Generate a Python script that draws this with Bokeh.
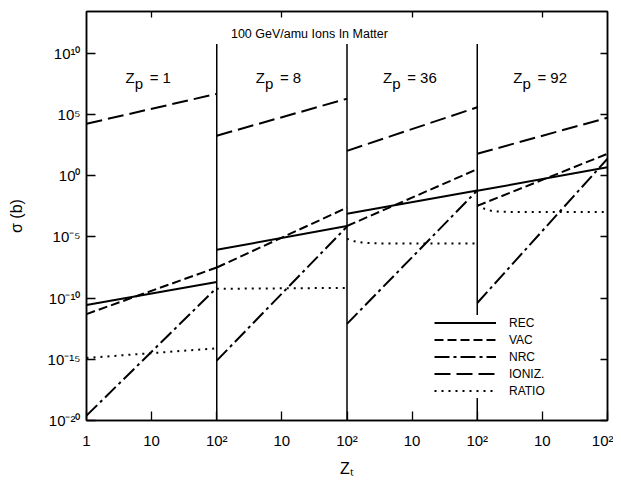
from bokeh.plotting import figure
from bokeh.models import (LogAxis, FixedTicker, ColumnDataSource, Legend, LegendItem,
                          Label)
from bokeh.core.properties import value
from bokeh.embed import file_html
from bokeh.resources import INLINE

# ---------------- data ----------------
zp_values = [1, 8, 36, 92]                 # projectile Z, one panel each
zt_ends = [1, 100]                         # target Z range in each panel
# cross sections in barns, [start, end] for each panel
rec = [[2.8e-11, 2.1e-9], [8.9e-7, 7.9e-5], [7.9e-4, 6.3e-2], [5.9e-2, 5.0]]
vac = [[5.0e-12, 3.2e-8], [3.2e-8, 2.5e-3], [7.9e-5, 3.5], [3.5e-3, 63.0]]
nrc = [[2.5e-20, 7.1e-10], [7.9e-16, 7.1e-5], [7.9e-13, 6.3e-2], [4.0e-11, 25.0]]
ioniz = [[1.8e4, 5.0e6], [1.9e3, 2.0e6], [1.1e2, 4.0e5], [63.0, 5.6e4]]
ratio_zt = [[1, 100], [1, 100],
            [1, 1.3, 1.7, 2.2, 3, 100], [1, 1.3, 1.7, 2.2, 3, 100]]
ratio = [[1.3e-15, 7.9e-15], [5.8e-10, 6.9e-10],
         [7.1e-6, 4.5e-6, 3.5e-6, 3.2e-6, 3.0e-6, 3.0e-6],
         [4.5e-3, 2.0e-3, 1.3e-3, 1.2e-3, 1.1e-3, 1.1e-3]]

y_ticks = [1e-20, 1e-15, 1e-10, 1e-5, 1.0, 1e5, 1e10]
y_tick_labels = ["10⁻²⁰", "10⁻¹⁵", "10⁻¹⁰", "10⁻⁵", "10⁰", "10⁵", "10¹⁰"]
zt_tick_labels = ["1", "10", "10²"]
divider_top = 6e10
title_text = "100 GeV/amu Ions In Matter"

FONT = "Liberation Sans"
n_panels = len(zp_values)
span = zt_ends[1] / zt_ends[0]   # each panel spans a factor of 100 in Zt


def place(zts, panel):
    return [z * span ** panel for z in zts]


p = figure(x_axis_type="log", y_axis_type="log",
           x_range=(1, span ** n_panels), y_range=(1e-20, 10 ** 13.43),
           frame_width=521, frame_height=409,
           min_border_left=86, min_border_right=6, min_border_top=11,
           min_border_bottom=63,
           output_backend="svg", toolbar_location=None)
p.xgrid.visible = False
p.ygrid.visible = False
p.outline_line_color = "black"
p.outline_line_width = 1.5
p.background_fill_color = "white"
p.border_fill_color = "white"

# ---------------- axes ----------------
x_ticks = []
x_labels = {}
for i in range(n_panels + 1):
    base = span ** i
    x_ticks.append(float(base))
    x_labels[float(base)] = zt_tick_labels[0] if i == 0 else zt_tick_labels[2]
    if i < n_panels:
        mid = base * 10
        x_ticks.append(float(mid))
        x_labels[float(mid)] = zt_tick_labels[1]

xa = p.xaxis[0]
xa.ticker = FixedTicker(ticks=x_ticks, minor_ticks=[])
xa.major_label_overrides = x_labels
xa.axis_label = "Zₜ"
xa.axis_label_standoff = 8
ya = p.yaxis[0]
ya.ticker = FixedTicker(ticks=y_ticks, minor_ticks=[])
ya.major_label_overrides = {float(t): l for t, l in zip(y_ticks, y_tick_labels)}
ya.axis_label = "σ (b)"
ya.axis_label_standoff = 20

for ax in (xa, ya):
    ax.major_tick_in = 9
    ax.major_tick_out = 0
    ax.minor_tick_in = 0
    ax.minor_tick_out = 0
    ax.axis_line_color = "black"
    ax.axis_line_width = 1.5
    ax.major_tick_line_color = "black"
    ax.major_tick_line_width = 1.3
    ax.major_label_text_font = FONT
    ax.major_label_text_font_size = "15px"
    ax.major_label_text_color = "black"
    ax.axis_label_text_font_style = "normal"
    ax.axis_label_text_font = FONT
    ax.axis_label_text_font_size = "16px"
    ax.axis_label_text_color = "black"
xa.major_label_standoff = 11
ya.major_label_standoff = 6

top_ticks = [float(span ** i * 10) for i in range(n_panels)]
top = LogAxis(ticker=FixedTicker(ticks=top_ticks, minor_ticks=[]))
right = LogAxis(ticker=FixedTicker(ticks=y_ticks, minor_ticks=[]))
for ax, tl in ((top, 6), (right, 7)):
    ax.major_tick_in = tl
    ax.major_tick_out = 0
    ax.minor_tick_in = 0
    ax.minor_tick_out = 0
    ax.major_label_text_font_size = "1px"
    ax.major_label_text_alpha = 0
    ax.major_label_standoff = 0
    ax.axis_line_color = "black"
    ax.axis_line_width = 1.5
    ax.major_tick_line_color = "black"
    ax.major_tick_line_width = 1.3
p.add_layout(top, "above")
p.add_layout(right, "right")

# ---------------- panel dividers ----------------
div_x = [float(span ** i) for i in range(1, n_panels)]
p.segment(x0=div_x, y0=[1e-20] * len(div_x), x1=div_x, y1=[divider_top] * len(div_x),
          line_color="black", line_width=1.5)

# ---------------- series ----------------
styles = [
    ("REC", rec, None, "solid"),
    ("VAC", vac, None, "9 4"),
    ("NRC", nrc, None, "15 4 3 4"),
    ("IONIZ.", ioniz, None, "16 6"),
    ("RATIO", ratio, ratio_zt, "2 5"),
]
items = []
for name, vals, zts, dash in styles:
    xs = []
    ys = []
    for i in range(n_panels):
        zz = zts[i] if zts is not None else zt_ends
        xs.append(place(zz, i))
        ys.append(list(vals[i]))
    src = ColumnDataSource(dict(xs=xs, ys=ys))
    r = p.multi_line(xs="xs", ys="ys", source=src, line_color="black",
                     line_width=2, line_dash=dash)
    items.append(LegendItem(label=name, renderers=[r]))

legend = Legend(items=items, location=(348, 22))
legend.background_fill_color = "white"
legend.background_fill_alpha = 1.0
legend.border_line_color = None
legend.padding = 4
legend.margin = 0
legend.spacing = 2
legend.glyph_width = 62
legend.glyph_height = 15
legend.label_height = 15
legend.label_standoff = 13
legend.label_text_font = FONT
legend.label_text_font_size = "12px"
legend.label_text_color = "black"
p.add_layout(legend)

# ---------------- panel labels ----------------
centers = [float(span ** i * 10) for i in range(n_panels)]
offs = [-17 - 3 * (len(str(z)) - 1) for z in zp_values]
src_lab = ColumnDataSource(dict(
    x=centers, yz=[1e8] * n_panels, yp=[3.3e7] * n_panels,
    z=["Z"] * n_panels, s=["p"] * n_panels,
    rest=["= %d" % z for z in zp_values],
    off=offs, off_rest=[o + 15 for o in offs]))
p.text(x="x", y="yz", text="z", x_offset="off", source=src_lab,
       text_align="right", text_baseline="middle", text_font=value(FONT),
       text_font_size="15px", text_color="black")
p.text(x="x", y="yp", text="s", x_offset="off", source=src_lab,
       text_align="left", text_baseline="middle", text_font=value(FONT),
       text_font_size="15px", text_color="black")
p.text(x="x", y="yz", text="rest", x_offset="off_rest", source=src_lab,
       text_align="left", text_baseline="middle", text_font=value(FONT),
       text_font_size="15px", text_color="black")

# ---------------- title ----------------
p.add_layout(Label(x=2.65e3, y=4e11, text=title_text, text_align="center",
                   text_baseline="middle", text_font=FONT, text_font_size="12.5px",
                   text_color="black"))

open("out.html", "w").write(file_html(p, INLINE))
